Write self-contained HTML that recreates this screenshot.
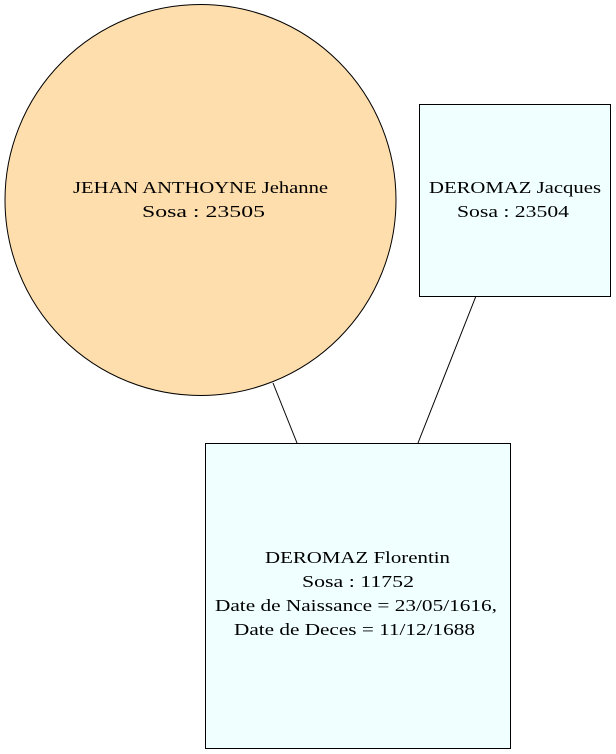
<!DOCTYPE html>
<html><head><meta charset="utf-8"><style>
html,body{margin:0;padding:0;background:#fff;}
svg{display:block;}
text{font-family:"Liberation Serif",serif;font-size:17px;fill:#000;}
</style></head><body>
<svg width="616" height="754" viewBox="0 0 616 754" xmlns="http://www.w3.org/2000/svg">
<rect width="616" height="754" fill="#fff"/>
<circle cx="200.5" cy="200" r="195.5" fill="#FFDEAD" stroke="#000" stroke-width="1"/>
<rect x="419.5" y="104.5" width="191" height="192" fill="#F0FFFF" stroke="#000"/>
<rect x="205.5" y="443.5" width="305" height="305" fill="#F0FFFF" stroke="#000"/>
<line x1="273" y1="383" x2="297" y2="443" stroke="#000"/>
<line x1="476" y1="296" x2="418" y2="443" stroke="#000"/>
<text x="73" y="193" textLength="255" lengthAdjust="spacingAndGlyphs">JEHAN ANTHOYNE Jehanne</text>
<text x="142" y="217" textLength="123" lengthAdjust="spacingAndGlyphs">Sosa : 23505</text>
<text x="429" y="193" textLength="172" lengthAdjust="spacingAndGlyphs">DEROMAZ Jacques</text>
<text x="457" y="217" textLength="112" lengthAdjust="spacingAndGlyphs">Sosa : 23504</text>
<text x="265" y="563" textLength="185" lengthAdjust="spacingAndGlyphs">DEROMAZ Florentin</text>
<text x="302" y="587" textLength="112" lengthAdjust="spacingAndGlyphs">Sosa : 11752</text>
<text x="215" y="611" textLength="282" lengthAdjust="spacingAndGlyphs">Date de Naissance = 23/05/1616,</text>
<text x="234" y="635" textLength="241" lengthAdjust="spacingAndGlyphs">Date de Deces = 11/12/1688</text>
</svg>
</body></html>
